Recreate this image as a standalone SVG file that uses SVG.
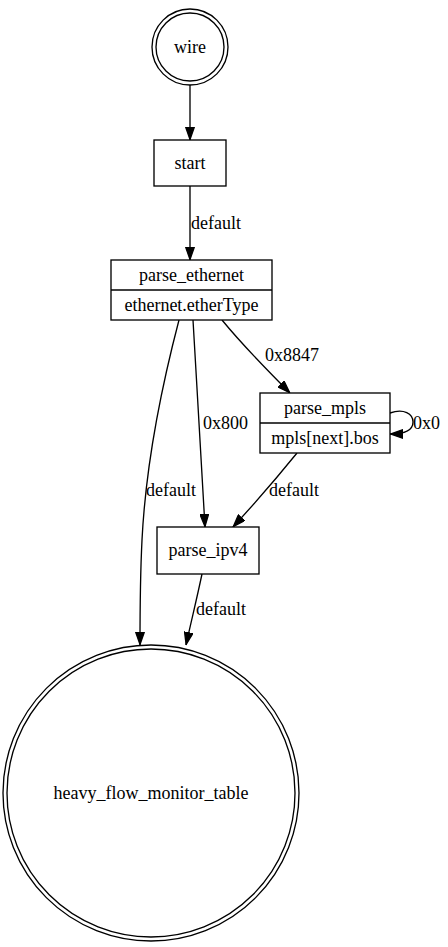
<svg xmlns="http://www.w3.org/2000/svg" width="448" height="947" viewBox="0 0 448 947">
<defs>
<marker id="arr" viewBox="0 0 13 9.4" refX="13" refY="4.7" markerWidth="13" markerHeight="9.4" markerUnits="userSpaceOnUse" orient="auto">
<path d="M0.5,0.5 L12.5,4.7 L0.5,8.9 z" fill="#000" stroke="#000" stroke-width="1.33"/>
</marker>
<style>
.n{fill:#fff;stroke:#000;stroke-width:1.33}
.e{fill:none;stroke:#000;stroke-width:1.33;marker-end:url(#arr)}
.d{stroke:#000;stroke-width:1.33}
text{font-family:"Liberation Serif","Times New Roman",serif;font-size:18px;fill:#000}
.c{text-anchor:middle}
</style>
</defs>
<rect width="448" height="947" fill="#fff"/>
<g id="connectors">
<path class="e" d="M190,85 L190,140"/>
<path class="e" d="M190,186 L190,260"/>
<text x="191" y="229">default</text>
<path class="e" d="M179,320 C162,385 146,460 142,540 C140,580 140,620 140,645"/>
<text x="146" y="496">default</text>
<path class="e" d="M193,320 C197,390 202,470 205,527"/>
<text x="203" y="429">0x800</text>
<path class="e" d="M222,320 C240,342 265,368 290,393"/>
<text x="265" y="361">0x8847</text>
<path class="e" d="M390,413 C404,408 413,414 413,422 C413,430 404,434 390,434"/>
<text x="413" y="429">0x0</text>
<path class="e" d="M297,453 C280,474 255,503 233,527"/>
<text x="269" y="496">default</text>
<path class="e" d="M202,574 C197,598 191,622 186,645"/>
<text x="196" y="615">default</text>
</g>
<g id="wire">
<circle class="n" cx="190" cy="47" r="38"/>
<circle class="n" cx="190" cy="47" r="34"/>
<text class="c" x="190" y="53">wire</text>
</g>
<g id="start">
<rect class="n" x="154" y="140" width="72" height="46"/>
<text class="c" x="190" y="169">start</text>
</g>
<g id="parse_ethernet">
<rect class="n" x="111" y="260" width="161" height="60"/>
<line class="d" x1="111" y1="290" x2="272" y2="290"/>
<text class="c" x="191.5" y="281">parse_ethernet</text>
<text class="c" x="191.5" y="311">ethernet.etherType</text>
</g>
<g id="parse_mpls">
<rect class="n" x="260" y="393" width="130" height="60"/>
<line class="d" x1="260" y1="423" x2="390" y2="423"/>
<text class="c" x="325" y="414">parse_mpls</text>
<text class="c" x="325" y="444">mpls[next].bos</text>
</g>
<g id="parse_ipv4">
<rect class="n" x="157" y="527" width="102" height="47"/>
<text class="c" x="208" y="556">parse_ipv4</text>
</g>
<g id="heavy_flow_monitor_table">
<circle class="n" cx="151" cy="793" r="148"/>
<circle class="n" cx="151" cy="793" r="144"/>
<text class="c" x="151" y="799">heavy_flow_monitor_table</text>
</g>
</svg>
